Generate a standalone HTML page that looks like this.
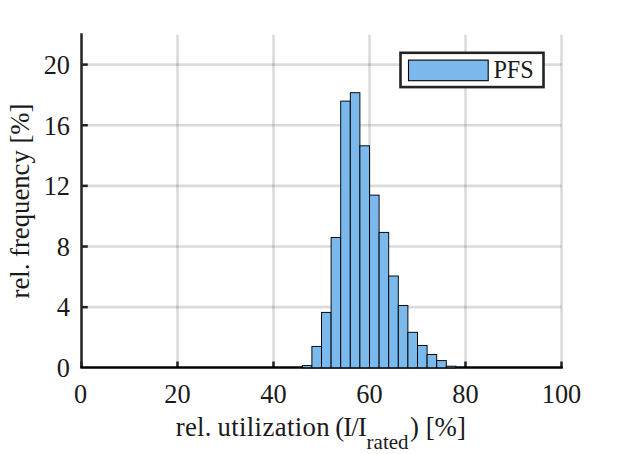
<!DOCTYPE html>
<html><head><meta charset="utf-8"><style>
html,body{margin:0;padding:0;background:#fff;width:620px;height:454px;overflow:hidden}
svg{display:block}
text{font-family:"Liberation Serif","Times New Roman",serif;fill:#1a1a1a}
</style></head><body>
<svg width="620" height="454" viewBox="0 0 620 454">
<line x1="177.50" y1="34.60" x2="177.50" y2="367.80" stroke="#262626" stroke-opacity="0.163" stroke-width="2.6"/>
<line x1="273.50" y1="34.60" x2="273.50" y2="367.80" stroke="#262626" stroke-opacity="0.163" stroke-width="2.6"/>
<line x1="369.50" y1="34.60" x2="369.50" y2="367.80" stroke="#262626" stroke-opacity="0.163" stroke-width="2.6"/>
<line x1="465.50" y1="34.60" x2="465.50" y2="367.80" stroke="#262626" stroke-opacity="0.163" stroke-width="2.6"/>
<line x1="561.50" y1="34.60" x2="561.50" y2="367.80" stroke="#262626" stroke-opacity="0.163" stroke-width="2.6"/>
<line x1="81.50" y1="307.16" x2="561.50" y2="307.16" stroke="#262626" stroke-opacity="0.163" stroke-width="2.6"/>
<line x1="81.50" y1="246.52" x2="561.50" y2="246.52" stroke="#262626" stroke-opacity="0.163" stroke-width="2.6"/>
<line x1="81.50" y1="185.88" x2="561.50" y2="185.88" stroke="#262626" stroke-opacity="0.163" stroke-width="2.6"/>
<line x1="81.50" y1="125.24" x2="561.50" y2="125.24" stroke="#262626" stroke-opacity="0.163" stroke-width="2.6"/>
<line x1="81.50" y1="64.60" x2="561.50" y2="64.60" stroke="#262626" stroke-opacity="0.163" stroke-width="2.6"/>
<path d="M81.50 33.28 V367.80" fill="none" stroke="#232323" stroke-width="2.5"/>
<line x1="81.50" y1="367.80" x2="81.50" y2="361.50" stroke="#232323" stroke-width="2.5"/>
<line x1="177.50" y1="367.80" x2="177.50" y2="361.50" stroke="#232323" stroke-width="2.5"/>
<line x1="273.50" y1="367.80" x2="273.50" y2="361.50" stroke="#232323" stroke-width="2.5"/>
<line x1="369.50" y1="367.80" x2="369.50" y2="361.50" stroke="#232323" stroke-width="2.5"/>
<line x1="465.50" y1="367.80" x2="465.50" y2="361.50" stroke="#232323" stroke-width="2.5"/>
<line x1="561.50" y1="367.80" x2="561.50" y2="361.50" stroke="#232323" stroke-width="2.5"/>
<line x1="81.50" y1="307.16" x2="87.80" y2="307.16" stroke="#232323" stroke-width="2.5"/>
<line x1="81.50" y1="246.52" x2="87.80" y2="246.52" stroke="#232323" stroke-width="2.5"/>
<line x1="81.50" y1="185.88" x2="87.80" y2="185.88" stroke="#232323" stroke-width="2.5"/>
<line x1="81.50" y1="125.24" x2="87.80" y2="125.24" stroke="#232323" stroke-width="2.5"/>
<line x1="81.50" y1="64.60" x2="87.80" y2="64.60" stroke="#232323" stroke-width="2.5"/>
<line x1="80.40" y1="367.55" x2="562.80" y2="367.55" stroke="#000" stroke-width="2.6"/>
<rect x="302.30" y="365.60" width="9.60" height="2.20" fill="#7bb9ed" stroke="#000" stroke-width="0.95"/>
<rect x="311.90" y="346.40" width="9.60" height="21.40" fill="#7bb9ed" stroke="#000" stroke-width="0.95"/>
<rect x="321.50" y="312.40" width="9.60" height="55.40" fill="#7bb9ed" stroke="#000" stroke-width="0.95"/>
<rect x="331.10" y="237.50" width="9.60" height="130.30" fill="#7bb9ed" stroke="#000" stroke-width="0.95"/>
<rect x="340.70" y="101.10" width="9.60" height="266.70" fill="#7bb9ed" stroke="#000" stroke-width="0.95"/>
<rect x="350.30" y="92.70" width="9.60" height="275.10" fill="#7bb9ed" stroke="#000" stroke-width="0.95"/>
<rect x="359.90" y="145.80" width="9.60" height="222.00" fill="#7bb9ed" stroke="#000" stroke-width="0.95"/>
<rect x="369.50" y="195.10" width="9.60" height="172.70" fill="#7bb9ed" stroke="#000" stroke-width="0.95"/>
<rect x="379.10" y="232.40" width="9.60" height="135.40" fill="#7bb9ed" stroke="#000" stroke-width="0.95"/>
<rect x="388.70" y="276.00" width="9.60" height="91.80" fill="#7bb9ed" stroke="#000" stroke-width="0.95"/>
<rect x="398.30" y="305.50" width="9.60" height="62.30" fill="#7bb9ed" stroke="#000" stroke-width="0.95"/>
<rect x="407.90" y="332.30" width="9.60" height="35.50" fill="#7bb9ed" stroke="#000" stroke-width="0.95"/>
<rect x="417.50" y="345.50" width="9.60" height="22.30" fill="#7bb9ed" stroke="#000" stroke-width="0.95"/>
<rect x="427.10" y="354.50" width="9.60" height="13.30" fill="#7bb9ed" stroke="#000" stroke-width="0.95"/>
<rect x="436.70" y="360.60" width="9.60" height="7.20" fill="#7bb9ed" stroke="#000" stroke-width="0.95"/>
<rect x="446.30" y="366.20" width="9.60" height="1.60" fill="#7bb9ed" stroke="#000" stroke-width="0.95"/>
<text x="80.70" y="402.5" text-anchor="middle" font-size="26.3">0</text>
<text x="177.50" y="402.5" text-anchor="middle" font-size="26.3">20</text>
<text x="273.50" y="402.5" text-anchor="middle" font-size="26.3">40</text>
<text x="369.50" y="402.5" text-anchor="middle" font-size="26.3">60</text>
<text x="465.50" y="402.5" text-anchor="middle" font-size="26.3">80</text>
<text x="561.50" y="402.5" text-anchor="middle" font-size="26.3">100</text>
<text x="70.0" y="377.10" text-anchor="end" font-size="26.3">0</text>
<text x="70.0" y="316.46" text-anchor="end" font-size="26.3">4</text>
<text x="70.0" y="255.82" text-anchor="end" font-size="26.3">8</text>
<text x="70.0" y="195.18" text-anchor="end" font-size="26.3">12</text>
<text x="70.0" y="134.54" text-anchor="end" font-size="26.3">16</text>
<text x="70.0" y="73.90" text-anchor="end" font-size="26.3">20</text>
<text y="435.6" font-size="26.8"><tspan x="175.66" letter-spacing="0.31">rel. </tspan><tspan x="217.45" letter-spacing="0.36">utilization </tspan><tspan x="335.22" letter-spacing="-0.87">(I/I</tspan><tspan x="366.6" y="448.7" font-size="21">rated</tspan><tspan x="410.04" y="435.6">) [%]</tspan></text>
<text transform="translate(29.2,201) rotate(-90)" text-anchor="middle" font-size="26.7">rel. frequency [%]</text>
<rect x="400.5" y="52.8" width="143" height="34.3" fill="#fff" stroke="#232323" stroke-width="2.6"/>
<rect x="408.5" y="60.1" width="79.7" height="20.6" fill="#7bb9ed" stroke="#000" stroke-width="1.1"/>
<text x="493.4" y="78" font-size="24.2">PFS</text>
</svg>
</body></html>
